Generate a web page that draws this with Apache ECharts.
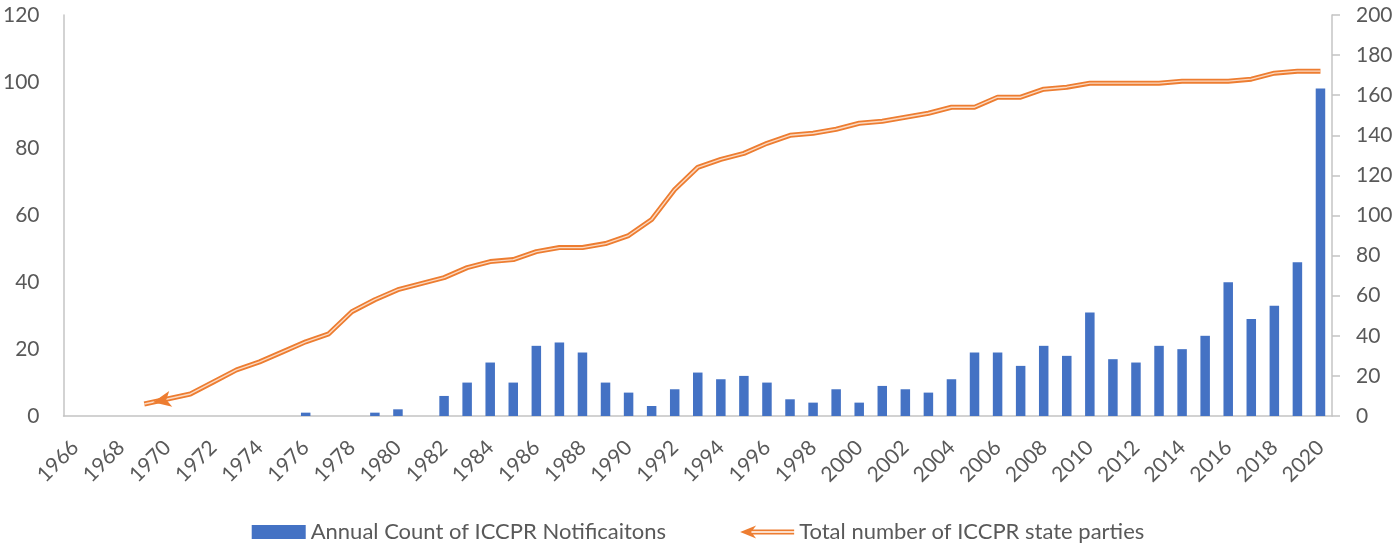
<!DOCTYPE html>
<html>
<head>
<meta charset="utf-8">
<script src="https://cdn.jsdelivr.net/npm/echarts@6/dist/echarts.min.js"></script>
<style>
  html, body { margin: 0; padding: 0; background: #ffffff; }
  #chart { width: 1396px; height: 546px; }
</style>
</head>
<body>
<div id="chart"></div>
<script>
const years = [];
for (let y = 1966; y <= 2020; y++) years.push(String(y));

const notifications = [
  0, 0, 0, 0, 0, 0, 0, 0, 0, 0,   // 1966-1975
  1, 0, 0, 1, 2, 0, 6, 10, 16, 10, // 1976-1985
  21, 22, 19, 10, 7, 3, 8, 13, 11, 12, // 1986-1995
  10, 5, 4, 8, 4, 9, 8, 7, 11, 19, // 1996-2005
  19, 15, 21, 18, 31, 17, 16, 21, 20, 24, // 2006-2015
  40, 29, 33, 46, 98               // 2016-2020
];

const stateParties = [
  null, null, null, 6, 8.5, 11, 17, 23, 27, 32, // 1966-1975
  37, 41, 52, 58, 63, 66, 69, 74, 77, 78,      // 1976-1985
  82, 84, 84, 86, 90, 98, 113, 124, 128, 131,  // 1986-1995
  136, 140, 141, 143, 146, 147, 149, 151, 154, 154, // 1996-2005
  159, 159, 163, 164, 166, 166, 166, 166, 167, 167, // 2006-2015
  167, 168, 171, 172, 172                       // 2016-2020
];

const leftTicks = { min: 0, max: 120, interval: 20 };
const rightTicks = { min: 0, max: 200, interval: 20 };

const BLUE = '#4472C4';
const ORANGE = '#ED7D31';
const TEXT = '#595959';
const AXIS = '#c4c4c4';
const FONT = 'Lato';

const firstIdx = stateParties.findIndex(v => v !== null);
const innerData = stateParties.map((v, i) => i === firstIdx ? {
  value: v,
  symbol: 'arrow',
  symbolSize: [12, 18],
  symbolRotate: 101,
  symbolOffset: [8.8, -1.7],
  itemStyle: { color: ORANGE }
} : v);

const chart = echarts.init(document.getElementById('chart'), null, { renderer: 'canvas' });

chart.setOption({
  animation: false,
  backgroundColor: '#ffffff',
  textStyle: { fontFamily: FONT },
  grid: { left: 61, right: 64, top: 15, bottom: 130, containLabel: false },
  legend: {
    top: 516,
    left: 'center',
    itemWidth: 54,
    itemHeight: 14,
    itemGap: 74,
    textStyle: { color: TEXT, fontSize: 22, fontFamily: FONT },
    data: [
      { name: 'Annual Count of ICCPR Notificaitons', icon: 'rect' },
      { name: 'Total number of ICCPR state parties',
        icon: 'path://M0,7 L16,0.5 L11,7 L16,13.5 Z M10,4.6 L54,4.6 L54,6.2 L10,6.2 Z M10,7.8 L54,7.8 L54,9.4 L10,9.4 Z' }
    ]
  },
  xAxis: {
    type: 'category',
    data: years,
    boundaryGap: true,
    axisLine: { show: true, lineStyle: { color: AXIS, width: 1.5 } },
    axisTick: { show: false },
    axisLabel: {
      interval: 1,
      rotate: 45,
      margin: 28,
      color: TEXT,
      fontSize: 21,
      fontFamily: FONT
    },
    splitLine: { show: false }
  },
  yAxis: [
    {
      type: 'value',
      min: leftTicks.min, max: leftTicks.max, interval: leftTicks.interval,
      axisLine: { show: true, lineStyle: { color: AXIS, width: 1.5 } },
      axisTick: { show: false },
      splitLine: { show: false },
      axisLabel: { color: TEXT, fontSize: 21, fontFamily: FONT, margin: 24 }
    },
    {
      type: 'value',
      position: 'right',
      min: rightTicks.min, max: rightTicks.max, interval: rightTicks.interval,
      axisLine: { show: true, lineStyle: { color: AXIS, width: 1.5 } },
      axisTick: { show: true, inside: false, length: 8, lineStyle: { color: AXIS, width: 1.5 } },
      splitLine: { show: false },
      axisLabel: { color: TEXT, fontSize: 21, fontFamily: FONT, margin: 24 }
    }
  ],
  series: [
    {
      name: 'Annual Count of ICCPR Notificaitons',
      type: 'bar',
      yAxisIndex: 0,
      data: notifications,
      barWidth: 9.5,
      itemStyle: { color: BLUE },
      z: 2
    },
    {
      name: 'Total number of ICCPR state parties',
      type: 'line',
      yAxisIndex: 1,
      data: stateParties,
      symbol: 'none',
      connectNulls: false,
      lineStyle: { color: ORANGE, width: 5 },
      itemStyle: { color: ORANGE },
      z: 3
    },
    {
      name: 'inner',
      type: 'line',
      yAxisIndex: 1,
      data: innerData,
      symbol: 'none',
      showSymbol: true,
      showAllSymbol: true,
      lineStyle: { color: '#fbd9c2', width: 1.4 },
      itemStyle: { color: ORANGE },
      z: 4
    }
  ]
});
</script>
</body>
</html>
